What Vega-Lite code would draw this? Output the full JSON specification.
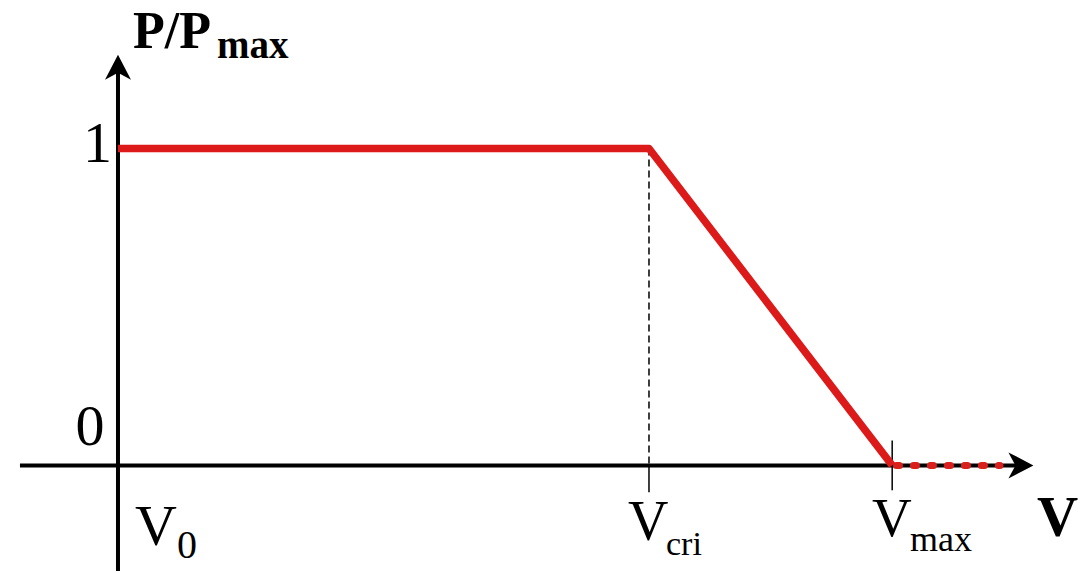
{
  "$schema": "https://vega.github.io/schema/vega-lite/v6.json",
  "width": 1086,
  "height": 573,
  "autosize": {"type": "fit", "contains": "padding"},
  "padding": 0,
  "background": "white",
  "config": {"view": {"stroke": null}},
  "datasets": {
    "axes": [
      {"name": "xaxis", "x": -0.1846, "x2": 1.712, "y": 0, "y2": 0},
      {"name": "yaxis", "x": 0, "x2": 0, "y": -0.3333, "y2": 1.27}
    ],
    "ticks": [
      {"name": "cri", "x": 1, "x2": 1, "y": 0, "y2": -0.085},
      {"name": "max", "x": 1.458, "x2": 1.458, "y": 0.0786, "y2": -0.0786}
    ],
    "guide": [
      {"name": "cri", "x": 1, "x2": 1, "y": 1, "y2": 0}
    ],
    "curve": [
      {"x": 0, "y": 1},
      {"x": 1, "y": 1},
      {"x": 1.458, "y": 0}
    ],
    "tail": [
      {"x": 1.466, "y": 0},
      {"x": 1.661, "y": 0}
    ],
    "arrows": [
      {"name": "V", "x": 1.724, "y": 0, "angle": 0},
      {"name": "P", "x": 0, "y": 1.2956, "angle": -90}
    ],
    "labels": [
      {"text": "1", "x": -0.066, "y": 0.956, "size": 58},
      {"text": "0", "x": -0.08, "y": 0.0629, "size": 58},
      {"text": "V", "x": 0.032, "y": -0.2516, "size": 58},
      {"text": "0", "x": 0.111, "y": -0.2925, "size": 40},
      {"text": "V", "x": 0.9605, "y": -0.2358, "size": 56},
      {"text": "cri", "x": 1.032, "y": -0.283, "size": 34},
      {"text": "V", "x": 1.42, "y": -0.2233, "size": 55},
      {"text": "max", "x": 1.4915, "y": -0.2704, "size": 36}
    ],
    "boldlabels": [
      {"text": "V", "x": 1.7307, "y": -0.2233, "size": 57},
      {"text": "P/P", "x": 0.0282, "y": 1.3176, "size": 52},
      {"text": "max", "x": 0.1864, "y": 1.2862, "size": 39}
    ]
  },
  "layer": [
    {
      "data": {"name": "axes"},
      "mark": {"type": "rule", "color": "black", "strokeWidth": 4},
      "encoding": {
        "x": {"field": "x", "type": "quantitative", "scale": {"domain": [-0.2222, 1.823], "nice": false, "zero": false}, "axis": null},
        "x2": {"field": "x2"},
        "y": {"field": "y", "type": "quantitative", "scale": {"domain": [-0.3333, 1.4686], "nice": false, "zero": false}, "axis": null},
        "y2": {"field": "y2"}
      }
    },
    {
      "data": {"name": "ticks"},
      "mark": {"type": "rule", "color": "black", "strokeWidth": 1.5},
      "encoding": {
        "x": {"field": "x", "type": "quantitative"},
        "x2": {"field": "x2"},
        "y": {"field": "y", "type": "quantitative"},
        "y2": {"field": "y2"}
      }
    },
    {
      "data": {"name": "guide"},
      "mark": {"type": "rule", "color": "black", "strokeWidth": 1.5, "strokeDash": [7, 4]},
      "encoding": {
        "x": {"field": "x", "type": "quantitative"},
        "x2": {"field": "x2"},
        "y": {"field": "y", "type": "quantitative"},
        "y2": {"field": "y2"}
      }
    },
    {
      "data": {"name": "arrows"},
      "mark": {"type": "point", "shape": "M0,0 L-1,-0.52 L-0.72,0 L-1,0.52 Z", "filled": true, "color": "black", "opacity": 1, "size": 2500},
      "encoding": {
        "x": {"field": "x", "type": "quantitative"},
        "y": {"field": "y", "type": "quantitative"},
        "angle": {"field": "angle", "type": "quantitative", "scale": null}
      }
    },
    {
      "data": {"name": "tail"},
      "mark": {"type": "line", "color": "#d9201c", "strokeWidth": 7, "strokeDash": [3, 14], "strokeCap": "round"},
      "encoding": {
        "x": {"field": "x", "type": "quantitative"},
        "y": {"field": "y", "type": "quantitative"}
      }
    },
    {
      "data": {"name": "curve"},
      "mark": {"type": "line", "color": "#dd1a1a", "strokeWidth": 7.5, "strokeJoin": "round"},
      "encoding": {
        "x": {"field": "x", "type": "quantitative"},
        "y": {"field": "y", "type": "quantitative"}
      }
    },
    {
      "data": {"name": "labels"},
      "mark": {"type": "text", "font": "Liberation Serif", "align": "left", "baseline": "alphabetic", "color": "black"},
      "encoding": {
        "x": {"field": "x", "type": "quantitative"},
        "y": {"field": "y", "type": "quantitative"},
        "text": {"field": "text"},
        "size": {"field": "size", "type": "quantitative", "scale": null}
      }
    },
    {
      "data": {"name": "boldlabels"},
      "mark": {"type": "text", "font": "Liberation Serif", "fontWeight": "bold", "align": "left", "baseline": "alphabetic", "color": "black"},
      "encoding": {
        "x": {"field": "x", "type": "quantitative"},
        "y": {"field": "y", "type": "quantitative"},
        "text": {"field": "text"},
        "size": {"field": "size", "type": "quantitative", "scale": null}
      }
    }
  ]
}
